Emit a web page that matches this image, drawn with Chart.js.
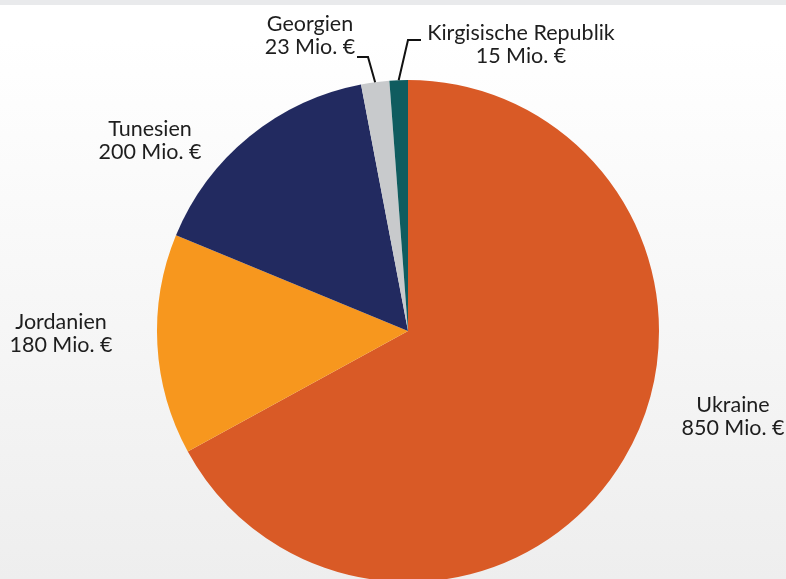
<!DOCTYPE html>
<html>
<head>
<meta charset="utf-8">
<script src="https://cdn.jsdelivr.net/npm/chart.js@4.4.0/dist/chart.umd.min.js"></script>
<style>
  html, body { margin: 0; padding: 0; }
  body {
    width: 786px; height: 579px; overflow: hidden;
    background: linear-gradient(to bottom, #e9eaec 0px, #e9eaec 5px, #ffffff 5px, #ffffff 40px, #eeeeee 579px);
  }
  #wrap { position: relative; width: 786px; height: 662px; }
</style>
</head>
<body>
<div id="wrap"><canvas id="pie-chartcanvas"></canvas></div>
<script>
// data
var countries = ["Ukraine", "Jordanien", "Tunesien", "Georgien", "Kirgisische Republik"];
var amounts = [850, 180, 200, 23, 15];
var valueLabels = ["850 Mio. €", "180 Mio. €", "200 Mio. €", "23 Mio. €", "15 Mio. €"];
var colors = ["#d95a26", "#f7971e", "#222a60", "#c8cacc", "#0f5c5f"];

// where each label sits (text centre, first line), optional leader line elbow
var labelLayout = [
  { x: 733, y: 405 },
  { x: 61, y: 322 },
  { x: 150, y: 129 },
  { x: 310, y: 24, elbow: [368, 57], end: 357 },
  { x: 521, y: 33, elbow: [408, 40], end: 421 }
];

var labelPlugin = {
  id: "outerLabels",
  afterDatasetsDraw: function(chart) {
    var ctx = chart.ctx;
    var meta = chart.getDatasetMeta(0);
    ctx.save();
    ctx.font = "21.5px Lato";
    ctx.fillStyle = "#1e1e1e";
    ctx.textAlign = "center";
    ctx.textBaseline = "middle";
    for (var i = 0; i < meta.data.length; i++) {
      var arc = meta.data[i];
      var pos = labelLayout[i];
      ctx.fillText(countries[i], pos.x, pos.y);
      ctx.fillText(valueLabels[i], pos.x, pos.y + 23);

      if (pos.elbow) {
        var mid = (arc.startAngle + arc.endAngle) / 2;
        var px = arc.x + Math.cos(mid) * arc.outerRadius;
        var py = arc.y + Math.sin(mid) * arc.outerRadius;
        ctx.beginPath();
        ctx.strokeStyle = "#111111";
        ctx.lineWidth = 2;
        ctx.moveTo(px, py);
        ctx.lineTo(pos.elbow[0], pos.elbow[1]);
        ctx.lineTo(pos.end, pos.elbow[1]);
        ctx.stroke();
      }
    }
    ctx.restore();
  }
};

var ctx = document.getElementById("pie-chartcanvas");

var data = {
  labels: countries,
  datasets: [
    {
      data: amounts,
      backgroundColor: colors,
      borderWidth: 0
    }
  ]
};

var options = {
  responsive: false,
  animation: false,
  layout: {
    padding: { top: 80, bottom: 80, left: 30, right: 0 }
  },
  plugins: {
    legend: { display: false },
    tooltip: { enabled: false }
  }
};

ctx.width = 786;
ctx.height = 662;

var chart = new Chart(ctx, {
  type: "pie",
  data: data,
  options: options,
  plugins: [labelPlugin]
});
</script>
</body>
</html>
